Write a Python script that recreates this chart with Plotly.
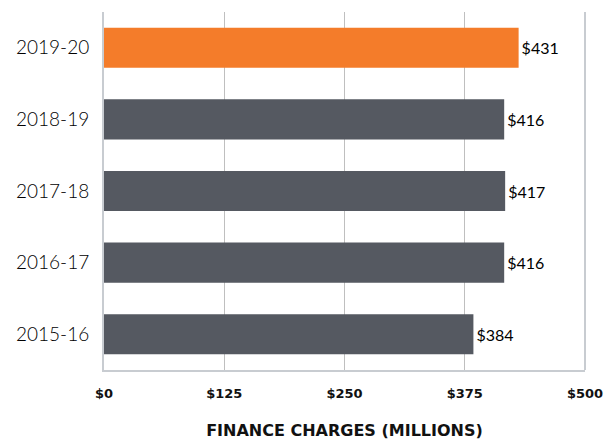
import plotly.graph_objects as go

categories = ["2015-16", "2016-17", "2017-18", "2018-19", "2019-20"]
values = [384, 416, 417, 416, 431]
colors = ["#555961", "#555961", "#555961", "#555961", "#F47C2A"]
tick_vals = [0, 125, 250, 375, 500]
tick_text = ["$0", "$125", "$250", "$375", "$500"]

light_font = "Lato"
bold_font = "DejaVu Sans"

fig = go.Figure(go.Bar(
    y=categories, x=values, orientation="h",
    marker=dict(color=colors, line=dict(width=0)),
    text=[f"${v}" for v in values], textposition="outside",
    textfont=dict(size=16, color="#000000", family=light_font, weight=400),
    cliponaxis=False, width=0.56,
))

fig.update_layout(
    width=605, height=441,
    margin=dict(l=104, r=20, t=12, b=71, autoexpand=False),
    paper_bgcolor="white", plot_bgcolor="white",
    showlegend=False,
    font=dict(family=light_font, color="#111111"),
    xaxis=dict(
        range=[0, 500], tickvals=tick_vals, ticktext=tick_text,
        tickfont=dict(size=13, color="#111111", family=bold_font, weight="bold"),
        showgrid=True, gridcolor="#BFBFBF", gridwidth=1,
        showline=True, linecolor="#C8CCD1", linewidth=2,
        zeroline=False, ticks="outside", ticklen=10, tickcolor="rgba(0,0,0,0)",
        automargin=False,
        title=dict(text="<b>FINANCE CHARGES (MILLIONS)</b>",
                   font=dict(size=16, color="#111111", family=bold_font), standoff=25),
        fixedrange=True,
    ),
    yaxis=dict(
        showgrid=False, showline=True, linecolor="#C8CCD1", linewidth=2,
        tickfont=dict(size=19, color="#000000", family=light_font, weight=300),
        ticks="outside", ticklen=9, tickcolor="rgba(0,0,0,0)",
        range=[-0.5, 4.5], automargin=False, fixedrange=True,
    ),
    shapes=[dict(type="line", xref="paper", yref="paper", x0=1, x1=1, y0=0, y1=1,
                 line=dict(color="#C8CCD1", width=2))],
)

fig.write_html("out.html", config={"displayModeBar": False},
               post_script="document.body.style.margin='0';document.body.style.overflow='hidden';")
